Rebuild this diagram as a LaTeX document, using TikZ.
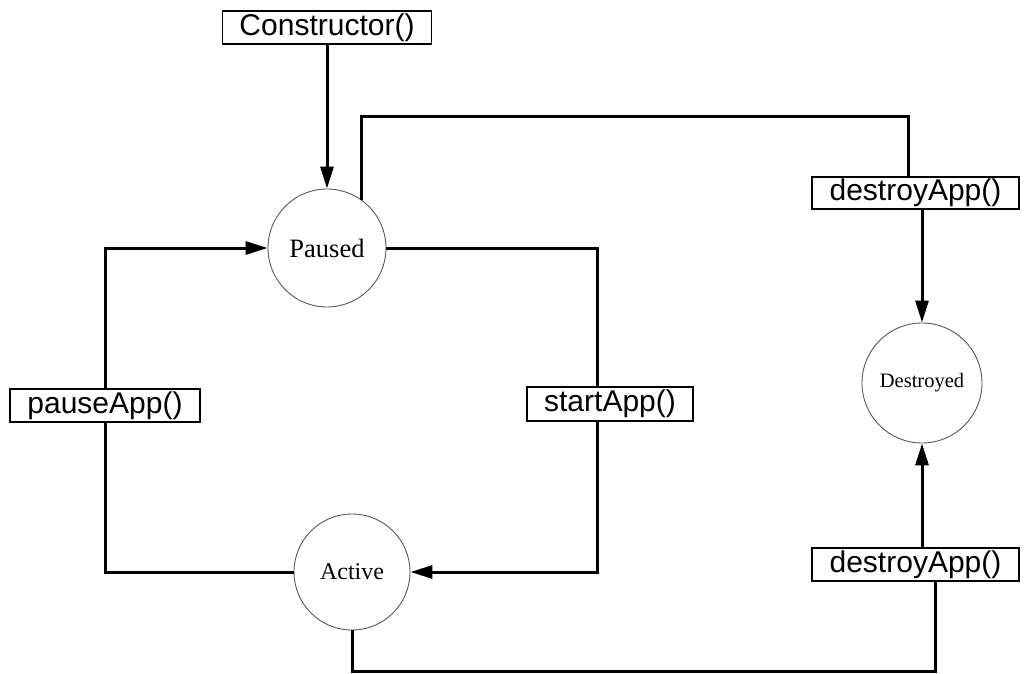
\documentclass[tikz,border=0pt]{standalone}
\usepackage{fontspec}
\setmainfont{Liberation Serif}
\newfontfamily\arialfont{Liberation Sans}
\usetikzlibrary{arrows.meta}
\tikzset{
  state/.style={circle, draw=black!65, line width=0.9pt, fill=white, inner sep=0pt, minimum size=#1},
  callbox/.style={rectangle, draw=black, line width=1.4pt, fill=white, inner sep=0pt,
    font=\arialfont\fontsize{30}{32}\selectfont},
  conn/.style={line width=3pt, line join=miter},
  arr/.style={conn, -{Triangle[length=22pt,width=13pt]}}
}
\begin{document}
\begin{tikzpicture}[x=1pt,y=-1pt]
\fill[white] (0,0) rectangle (1026,674);
\useasboundingbox (0,0) rectangle (1026,674);

% states
\node[state=118pt, font=\fontsize{26.5}{28}\selectfont] (paused) at (327,248) {Paused};
\node[state=120pt, font=\fontsize{20.5}{22}\selectfont] (destroyed) at (922,383) {Destroyed};
\node[state=116pt, font=\fontsize{24}{26}\selectfont] (active) at (352,572) {Active};

% method boxes
\node[callbox, minimum width=209pt, minimum height=33pt] (con) at (327,27.5) {Constructor()};
\node[callbox, minimum width=207pt, minimum height=32pt] (d1) at (915.5,193) {destroyApp()};
\node[callbox, minimum width=207pt, minimum height=33pt] (d2) at (915.5,564.5) {destroyApp()};
\node[callbox, minimum width=190pt, minimum height=33pt] (pause) at (105,405.5) {pauseApp()};
\node[callbox, minimum width=166pt, minimum height=34pt] (start) at (610,404) {startApp()};

% helper coordinates
\coordinate (tr) at (908,117);
\coordinate (br) at (935,671);
\coordinate (rx) at (597,0);

% connectors
\draw[arr] (con.south) -- (paused.north);
\draw[conn] (paused.54) |- (tr) -- (tr |- d1.north);
\draw[arr] (destroyed.north |- d1.south) -- (destroyed.north);
\draw[arr] (destroyed.south |- d2.north) -- (destroyed.south);
\draw[conn] (active.south) |- (br) -- (br |- d2.south);
\draw[conn] (active.west) -| (pause.south);
\draw[arr] (pause.north) |- (paused.west);
\draw[conn] (paused.east) -| (rx |- start.north);
\draw[arr] (rx |- start.south) |- (active.east);
\end{tikzpicture}
\end{document}
